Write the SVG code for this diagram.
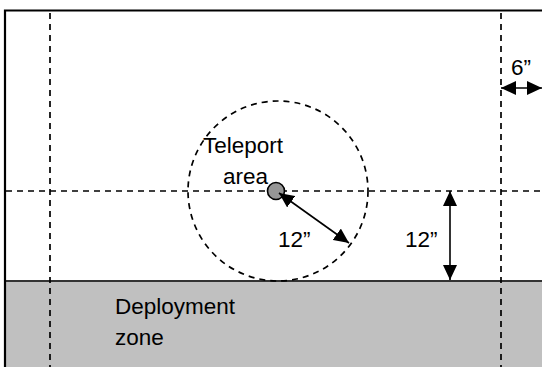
<svg xmlns="http://www.w3.org/2000/svg" width="542" height="367" viewBox="0 0 542 367">
  <style>
    .txt { font-family: "Liberation Sans", Arial, sans-serif; font-size: 22.5px; fill: #000; }
    .dash { fill: none; stroke: #000; stroke-width: 1.7; stroke-dasharray: 6 5; }
    .dim { fill: none; stroke: #000; stroke-width: 1.6; marker-start: url(#ah); marker-end: url(#ah); }
  </style>
  <defs>
    <marker id="ah" viewBox="0 0 15 14" refX="15" refY="7" markerWidth="15" markerHeight="14" markerUnits="userSpaceOnUse" orient="auto-start-reverse">
      <path d="M0,0 L15,7 L0,14 Z" fill="#000"/>
    </marker>
  </defs>
  <rect x="0" y="0" width="542" height="367" fill="#fff"/>

  <g id="deployment-zone">
    <rect x="5" y="281" width="540" height="90" fill="#c0c0c0"/>
    <line x1="5" y1="281" x2="542" y2="281" stroke="#333" stroke-width="2"/>
    <text class="txt" x="115" y="314">Deployment</text>
    <text class="txt" x="115" y="345">zone</text>
  </g>

  <g id="frame">
    <path d="M5,370 L5,10.5 L545,10.5" fill="none" stroke="#000" stroke-width="2.2"/>
  </g>

  <g id="guides">
    <line class="dash" x1="50" y1="13" x2="50" y2="367"/>
    <line class="dash" x1="501" y1="13" x2="501" y2="367"/>
    <line class="dash" x1="6" y1="191" x2="542" y2="191"/>
  </g>

  <g id="teleport-area">
    <circle class="dash" cx="278" cy="191" r="90"/>
    <text class="txt" x="203" y="153">Teleport</text>
    <text class="txt" x="223" y="184">area</text>
  </g>

  <g id="teleport-point">
    <circle cx="276" cy="191" r="8.5" fill="#969696" stroke="#000" stroke-width="1.6"/>
  </g>

  <g id="connectors">
    <line class="dim" x1="279" y1="193" x2="349" y2="243"/>
    <line class="dim" x1="450" y1="191" x2="450" y2="280"/>
    <line class="dim" x1="501" y1="88" x2="542" y2="88"/>
  </g>

  <g id="labels">
    <text class="txt" x="278" y="247">12”</text>
    <text class="txt" x="405" y="247">12”</text>
    <text class="txt" x="511" y="75">6”</text>
  </g>
</svg>
